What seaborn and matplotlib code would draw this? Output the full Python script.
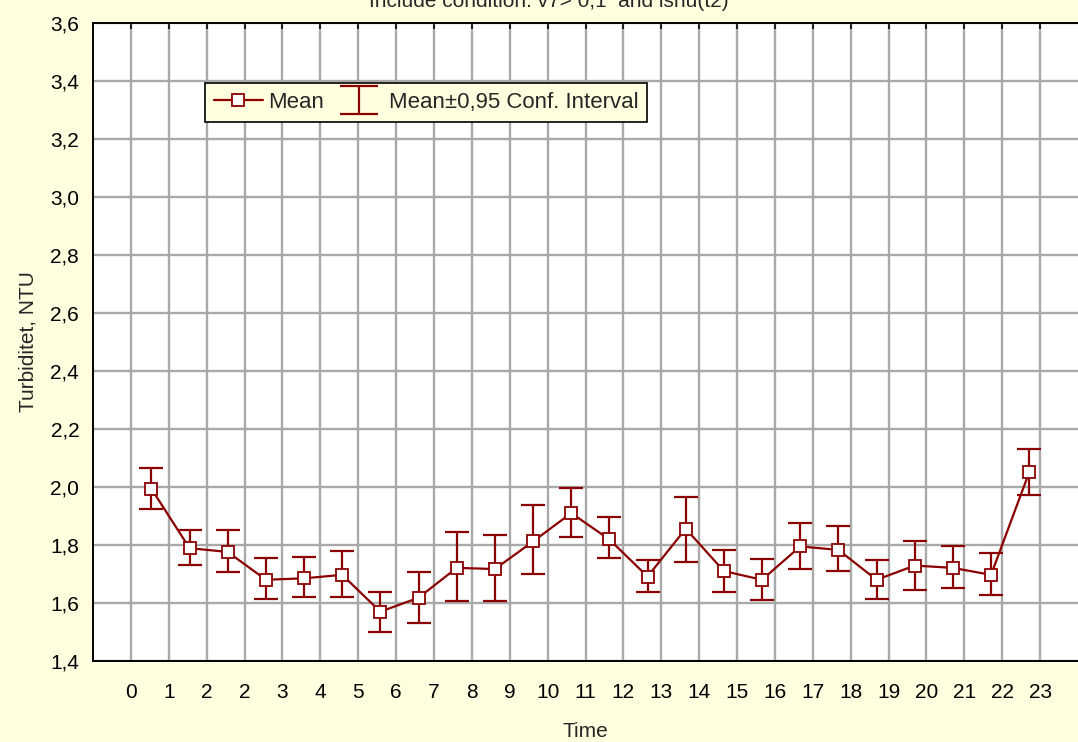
import numpy as np
import pandas as pd
import matplotlib
matplotlib.use("Agg")
import matplotlib.pyplot as plt
import seaborn as sns
from matplotlib.legend_handler import HandlerErrorbar

# ------------------------------------------------------------
# Data
# ------------------------------------------------------------
hours = np.arange(24)
mean_ntu = [1.994, 1.789, 1.776, 1.680, 1.685, 1.697, 1.570, 1.618,
            1.721, 1.717, 1.812, 1.910, 1.819, 1.691, 1.856, 1.710,
            1.680, 1.795, 1.783, 1.680, 1.729, 1.721, 1.697, 2.051]
ci_upper = [2.064, 1.853, 1.853, 1.755, 1.760, 1.779, 1.638, 1.706,
            1.846, 1.833, 1.937, 1.998, 1.895, 1.749, 1.967, 1.784,
            1.753, 1.877, 1.864, 1.749, 1.815, 1.798, 1.773, 2.132]
ci_lower = [1.925, 1.730, 1.706, 1.614, 1.622, 1.622, 1.501, 1.530,
            1.608, 1.608, 1.700, 1.827, 1.755, 1.639, 1.742, 1.639,
            1.609, 1.718, 1.711, 1.614, 1.645, 1.651, 1.627, 1.973]
tick_labels = ["0", "1", "2", "2", "3", "4", "5", "6", "7", "8", "9", "10", "11",
               "12", "13", "14", "15", "16", "17", "18", "19", "20", "21", "22", "23"]
y_ticks = [1.4, 1.6, 1.8, 2.0, 2.2, 2.4, 2.6, 2.8, 3.0, 3.2, 3.4, 3.6]

df = pd.DataFrame({"hour": hours, "mean": mean_ntu, "lo": ci_lower, "hi": ci_upper})
# points sit between the tick marks, slightly drifting like the original
df["xpos"] = df["hour"] * 1.0075 + 0.54

RED = "#8B0000"
BG = "#FFFFE0"
CI_LABEL = "Mean\u00b10,95 Conf. Interval"

sns.set_style("white")
plt.rcParams["font.family"] = ["Liberation Sans", "DejaVu Sans"]

fig = plt.figure(figsize=(10.78, 7.42), dpi=100, facecolor=BG)
ax = fig.add_axes([0.0863, 0.1092, 0.9137, 0.8598])
ax.set_facecolor("white")

# confidence interval whiskers
yerr = np.vstack([df["mean"] - df["lo"], df["hi"] - df["mean"]])
ax.errorbar(df["xpos"], df["mean"], yerr=yerr, fmt="none", ecolor=RED,
            elinewidth=1.6, capsize=8.3, capthick=1.6, zorder=3)

# mean line with square markers
sns.lineplot(data=df, x="xpos", y="mean", ax=ax, color=RED, linewidth=1.6,
             marker="s", markersize=9, markerfacecolor="white",
             markeredgecolor=RED, markeredgewidth=1.3, zorder=4, label="Mean")

# legend proxy for the whisker symbol (wider caps like the original)
ci_proxy = ax.errorbar([np.nan], [np.nan], yerr=[[np.nan], [np.nan]], fmt="none",
                       ecolor=RED, elinewidth=1.6, capsize=14, capthick=1.6,
                       label=CI_LABEL)

ax.set_xlim(-1, 25)
ax.set_ylim(1.4, 3.6)
ax.set_xticks(range(len(tick_labels)))
ax.set_xticklabels(tick_labels)
ax.set_yticks(y_ticks)
ax.set_yticklabels([f"{v:.1f}".replace(".", ",") for v in y_ticks])

ax.grid(True, color="#a9a9a9", linewidth=1.7)
ax.set_axisbelow(True)

ax.tick_params(axis="x", direction="in", length=4, width=1.2, top=True,
               labelsize=15, pad=16, colors="black")
ax.tick_params(axis="y", direction="out", length=5, width=1.0,
               labelsize=15, pad=5, colors="black")

for side in ["left", "bottom", "top"]:
    ax.spines[side].set_visible(True)
    ax.spines[side].set_color("black")
    ax.spines[side].set_linewidth(1.4)
ax.spines["right"].set_visible(False)

ax.set_xlabel("Time", fontsize=15, labelpad=14)
ax.set_ylabel("Turbiditet, NTU", fontsize=15, labelpad=9)

handles, labels = ax.get_legend_handles_labels()
order = [labels.index("Mean"), labels.index(CI_LABEL)]
leg = ax.legend([handles[i] for i in order], [labels[i] for i in order],
                loc="upper left", bbox_to_anchor=(0.1136, 0.906), borderaxespad=0,
                ncol=2, fontsize=16, frameon=True, fancybox=False,
                facecolor=BG, edgecolor="black", framealpha=1,
                handlelength=2.2, columnspacing=0.45, handletextpad=0.25,
                borderpad=0.4,
                handler_map={type(ci_proxy): HandlerErrorbar(yerr_size=0.62)})
leg.get_frame().set_linewidth(1.2)

fig.text(0.509, 1 - 7 / 742, "Include condition: v7> 0,1  and isnu(t2)",
         ha="center", va="baseline", fontsize=15)

fig.savefig("out.png", dpi=100, facecolor=BG)
